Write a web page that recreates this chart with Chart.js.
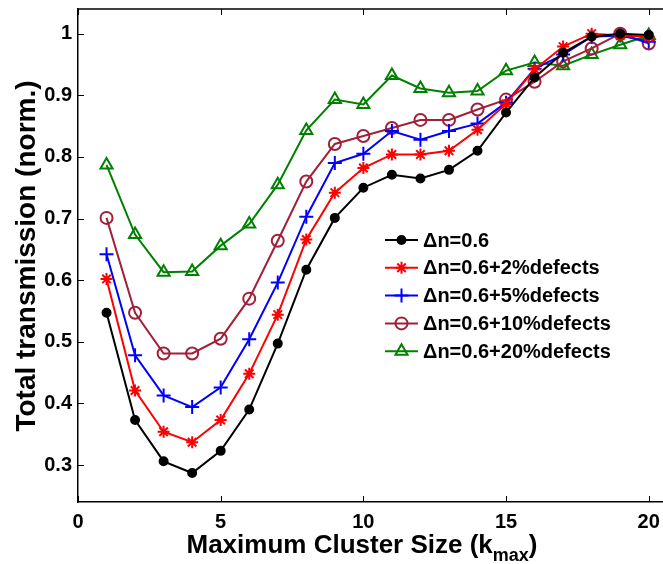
<!DOCTYPE html>
<html>
<head>
<meta charset="utf-8">
<script src="https://cdn.jsdelivr.net/npm/chart.js@4.4.0/dist/chart.umd.min.js"></script>
<style>
  html, body { margin: 0; padding: 0; background: #fff; }
  #wrap { width: 663px; height: 564px; }
</style>
</head>
<body>
<div id="wrap"><canvas id="lineChart"></canvas></div>
<script>
const kMax = [1, 2, 3, 4, 5, 6, 7, 8, 9, 10, 11, 12, 13, 14, 15, 16, 17, 18, 19, 20];
const seriesLabels = ['\u0394n=0.6', '\u0394n=0.6+2%defects', '\u0394n=0.6+5%defects', '\u0394n=0.6+10%defects', '\u0394n=0.6+20%defects'];
const dn06 = [0.547, 0.373, 0.306, 0.287, 0.323, 0.390, 0.497, 0.617, 0.701, 0.750, 0.771, 0.765, 0.779, 0.810, 0.872, 0.929, 0.969, 0.995, 1.000, 0.998];
const def02 = [0.602, 0.421, 0.354, 0.337, 0.373, 0.448, 0.544, 0.666, 0.742, 0.782, 0.804, 0.804, 0.810, 0.844, 0.886, 0.942, 0.979, 1.000, 0.997, 0.995];
const def05 = [0.642, 0.478, 0.413, 0.394, 0.426, 0.504, 0.596, 0.703, 0.790, 0.805, 0.842, 0.828, 0.842, 0.854, 0.888, 0.943, 0.966, 0.995, 0.997, 0.987];
const def10 = [0.701, 0.547, 0.481, 0.481, 0.505, 0.570, 0.664, 0.760, 0.821, 0.834, 0.847, 0.860, 0.860, 0.877, 0.893, 0.922, 0.955, 0.976, 1.000, 0.984];
const def20 = [0.787, 0.674, 0.613, 0.614, 0.656, 0.691, 0.755, 0.843, 0.893, 0.885, 0.932, 0.911, 0.904, 0.907, 0.940, 0.953, 0.948, 0.966, 0.982, 0.997];
const xTicks = [0, 5, 10, 15, 20];
const yTicks = [0.3, 0.4, 0.5, 0.6, 0.7, 0.8, 0.9, 1];

const FONT = "'Liberation Sans', Arial, Helvetica, sans-serif";

function toPoints(arr) {
  return arr.map((v, i) => ({ x: kMax[i], y: v }));
}

const styles = [
  { color: '#000000', pointStyle: 'circle', radius: 4, fill: '#000000' },
  { color: '#ff0000', pointStyle: 'star', radius: 6, fill: 'rgba(0,0,0,0)' },
  { color: '#0000ff', pointStyle: 'cross', radius: 7, fill: 'rgba(0,0,0,0)' },
  { color: '#a0203a', pointStyle: 'circle', radius: 6, fill: 'rgba(0,0,0,0)' },
  { color: '#008000', pointStyle: 'triangle', radius: 7, fill: 'rgba(0,0,0,0)' }
];
const allSeries = [dn06, def02, def05, def10, def20];

const datasets = allSeries.map((s, i) => ({
  label: seriesLabels[i],
  data: toPoints(s),
  borderColor: styles[i].color,
  backgroundColor: styles[i].fill,
  borderWidth: 2,
  pointStyle: styles[i].pointStyle,
  pointRadius: styles[i].radius,
  pointBorderWidth: 2,
  pointBorderColor: styles[i].color,
  pointBackgroundColor: styles[i].fill,
  tension: 0
}));

// MATLAB-ish decorations: top box line, inward ticks, in-plot legend, axis titles
const decorations = {
  id: 'decorations',
  afterDraw(chart) {
    const ctx = chart.ctx;
    const area = chart.chartArea;
    const xs = chart.scales.x;
    const ys = chart.scales.y;
    ctx.save();
    ctx.strokeStyle = '#000';
    ctx.lineWidth = 1.5;
    ctx.beginPath();
    ctx.moveTo(area.left, area.top);
    ctx.lineTo(area.right, area.top);
    ctx.stroke();

    ctx.lineWidth = 1;
    ctx.beginPath();
    xTicks.forEach(v => {
      const px = Math.round(xs.getPixelForValue(v)) + 0.5;
      ctx.moveTo(px, area.bottom);
      ctx.lineTo(px, area.bottom - 6);
      ctx.moveTo(px, area.top);
      ctx.lineTo(px, area.top + 6);
    });
    yTicks.forEach(v => {
      const py = Math.round(ys.getPixelForValue(v)) + 0.5;
      ctx.moveTo(area.left, py);
      ctx.lineTo(area.left + 6, py);
    });
    ctx.stroke();

    // legend
    const lx0 = 385, lx1 = 418, tx = 423, ly0 = 240, step = 27.8;
    ctx.font = 'bold 20px ' + FONT;
    ctx.textBaseline = 'middle';
    ctx.textAlign = 'left';
    chart.data.datasets.forEach((ds, i) => {
      const y = ly0 + i * step;
      ctx.strokeStyle = ds.borderColor;
      ctx.lineWidth = 2;
      ctx.beginPath();
      ctx.moveTo(lx0, y);
      ctx.lineTo(lx1, y);
      ctx.stroke();
      ctx.fillStyle = ds.pointBackgroundColor;
      ctx.strokeStyle = ds.pointBorderColor;
      ctx.lineWidth = 2;
      Chart.helpers.drawPoint(ctx, { pointStyle: ds.pointStyle, radius: ds.pointRadius, borderWidth: 2, rotation: 0 }, (lx0 + lx1) / 2, y);
      ctx.fillStyle = '#000';
      ctx.fillText(ds.label, tx, y + 1);
    });

    // y title
    ctx.fillStyle = '#000';
    ctx.save();
    ctx.translate(27, 256);
    ctx.rotate(-Math.PI / 2);
    ctx.font = 'bold 28px ' + FONT;
    ctx.textAlign = 'center';
    ctx.textBaseline = 'middle';
    ctx.fillText('Total transmission (norm.)', 0, 0);
    ctx.restore();

    // x title with subscript
    const main = 'Maximum Cluster Size (k';
    const sub = 'max';
    const close = ')';
    ctx.textBaseline = 'alphabetic';
    ctx.font = 'bold 26px ' + FONT;
    const wMain = ctx.measureText(main).width;
    const wClose = ctx.measureText(close).width;
    ctx.font = 'bold 18px ' + FONT;
    const wSub = ctx.measureText(sub).width;
    let x = 362 - (wMain + wSub + wClose) / 2;
    const base = 553;
    ctx.font = 'bold 26px ' + FONT;
    ctx.fillText(main, x, base);
    x += wMain;
    ctx.font = 'bold 18px ' + FONT;
    ctx.fillText(sub, x, base + 8);
    x += wSub;
    ctx.font = 'bold 26px ' + FONT;
    ctx.fillText(close, x, base);
    ctx.restore();
  }
};

const ctx = document.getElementById('lineChart');

new Chart(ctx, {
  type: 'line',
  data: { datasets: datasets },
  options: {
    responsive: true,
    maintainAspectRatio: false,
    animation: false,
    layout: { padding: { top: 9, right: 0, bottom: 0, left: 0 }, autoPadding: false },
    plugins: {
      legend: { display: false },
      tooltip: { enabled: false }
    },
    scales: {
      x: {
        type: 'linear',
        min: 0,
        max: 20.5,
        grid: { display: false, drawTicks: false },
        border: { display: true, color: '#000', width: 1.5 },
        afterBuildTicks: s => { s.ticks = xTicks.map(v => ({ value: v })); },
        afterFit: s => { s.height = 62; s.paddingLeft = 0; s.paddingRight = 0; },
        ticks: {
          color: '#000',
          padding: 8,
          maxRotation: 0,
          font: { family: FONT, size: 20, weight: 'bold' }
        }
      },
      y: {
        type: 'linear',
        min: 0.24,
        max: 1.04,
        grid: { display: false, drawTicks: false },
        border: { display: true, color: '#000', width: 1.5 },
        afterBuildTicks: s => { s.ticks = yTicks.map(v => ({ value: v })); },
        afterFit: s => { s.width = 78; s.paddingTop = 0; s.paddingBottom = 0; },
        ticks: {
          color: '#000',
          padding: 6,
          callback: v => String(v),
          font: { family: FONT, size: 20, weight: 'bold' }
        }
      }
    }
  },
  plugins: [decorations]
});
</script>
</body>
</html>
